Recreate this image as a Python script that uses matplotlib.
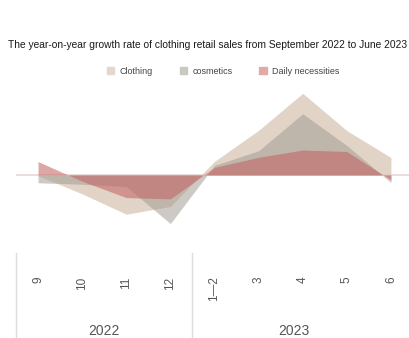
import matplotlib.pyplot as plt
import matplotlib.transforms as mtransforms
from matplotlib.patches import Patch

# year-on-year growth rate (%), Sep 2022 - Jun 2023
months = ['9', '10', '11', '12', '1\u20142', '3', '4', '5', '6']
years = ['2022', '2023']
clothing = [-0.3, -7.5, -15.6, -12.5, 5.4, 17.7, 32.4, 17.6, 6.9]
cosmetics = [-3.1, -3.7, -4.6, -19.3, 3.8, 9.6, 24.3, 11.7, -3.0]
daily = [5.3, -2.5, -9.0, -9.5, 3.0, 7.0, 9.9, 9.3, -2.0]

plt.rcParams['font.family'] = ['Liberation Sans', 'DejaVu Sans']

fig = plt.figure(figsize=(4.09, 3.38), dpi=100)
ax = fig.add_axes([16/409, 88/338, 397/409, 165/338])

x = list(range(len(months)))
ax.axhline(0, color='#ead6d6', lw=1.2, zorder=0)
ax.fill_between(x, 0, clothing, color='#dccdbe', alpha=0.85, lw=0, zorder=1)
ax.fill_between(x, 0, cosmetics, color='#a49e94', alpha=0.55, lw=0, zorder=2)
ax.fill_between(x, 0, daily, color='#c45f5f', alpha=0.55, lw=0, zorder=3)

ax.set_xlim(-0.5, 8.5)
ax.set_ylim(-29.8, 35.7)
ax.set_yticks([])
ax.set_xticks(x)
ax.set_xticklabels(months, rotation=90, fontsize=8.5, color='#555555',
                   va='top')
ax.tick_params(axis='x', length=0, pad=19)
for s in ax.spines.values():
    s.set_visible(False)

trans = mtransforms.blended_transform_factory(ax.transData, ax.transAxes)
for xb in [-0.5, 3.5]:
    ax.plot([xb, xb], [-0.02, -0.55], color='#dddddd', lw=1,
            transform=trans, clip_on=False)
ax.text(1.5, -0.49, years[0], transform=trans, ha='center', va='center',
        fontsize=10, color='#555555')
ax.text(5.8, -0.49, years[1], transform=trans, ha='center', va='center',
        fontsize=10, color='#555555')

fig.text(8/409, 1 - 45/338,
         'The year-on-year growth rate of clothing retail sales from September 2022 to June 2023',
         fontsize=7.35, color='#1a1a1a', va='center', ha='left')

handles = [Patch(color='#e3d8cf', label='Clothing'),
           Patch(color='#c9c8c2', label='cosmetics'),
           Patch(color='#e2a9a9', label='Daily necessities')]
fig.legend(handles=handles, loc='center', bbox_to_anchor=(223/409, 1 - 71/338),
           ncol=3, frameon=False, fontsize=6.5, handlelength=0.8,
           handleheight=0.8, columnspacing=3, handletextpad=0.6,
           labelcolor='#444444')

fig.savefig('out.png', dpi=100)
